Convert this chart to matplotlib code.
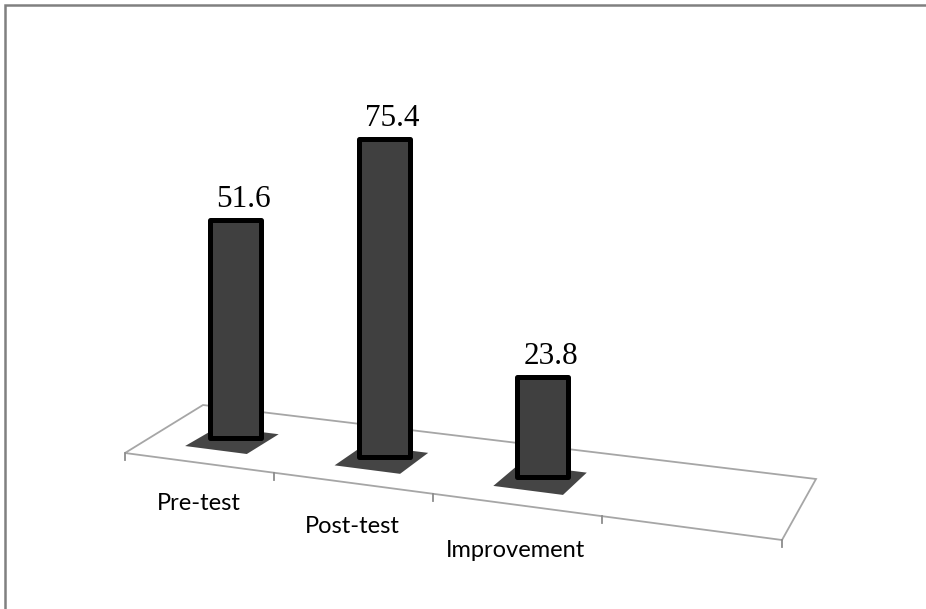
import numpy as np
import matplotlib.pyplot as plt
from matplotlib.patches import Polygon

categories = ["Pre-test", "Post-test", "Improvement"]
values = [51.6, 75.4, 23.8]

W, H_PX = 926, 609
n_slots = len(categories) + 1  # floor has one empty slot on the right

# floor corners on screen: front-left, front-right, back-right, back-left
floor_uv = [(0, 0), (n_slots, 0), (n_slots, 1), (0, 1)]
floor_px = [(125, 453), (782, 540), (816, 479), (203, 405)]


def homography(src, dst):
    rows = []
    for (x, y), (X, Y) in zip(src, dst):
        rows.append([x, y, 1, 0, 0, 0, -X * x, -X * y, -X])
        rows.append([0, 0, 0, x, y, 1, -Y * x, -Y * y, -Y])
    _, _, vt = np.linalg.svd(np.array(rows, dtype=float))
    h = vt[-1].reshape(3, 3)
    return h / h[2, 2]


Hm = homography(floor_uv, floor_px)


def to_px(u, d):
    p = Hm @ np.array([u, d, 1.0])
    return p[0] / p[2], p[1] / p[2]


fig = plt.figure(figsize=(W / 100, H_PX / 100), dpi=100)
ax = fig.add_axes([0, 0, 1, 1])
ax.set_xlim(0, W)
ax.set_ylim(H_PX, 0)
ax.axis("off")

# outer chart border (only top and left fall inside the image)
ax.plot([5, 5, W + 5], [H_PX + 5, 5, 5], color="#808080", lw=1.8, solid_joinstyle="miter")

# floor
grid_col = "#a6a6a6"
ax.add_patch(Polygon([to_px(u, d) for u, d in floor_uv], closed=True,
                     facecolor="white", edgecolor=grid_col, lw=1.3, zorder=1))
for t in range(n_slots + 1):
    x0, y0 = to_px(t, 0)
    ax.plot([x0, x0], [y0, y0 + 7], color="#8c8c8c", lw=1.3, zorder=1)

d_bar = 0.48
k = 4.22  # pixels per unit value
bar_w = 51
bx, by = [], []
for i in range(len(categories)):
    x, y = to_px(i + 0.5, d_bar)
    bx.append(x)
    by.append(y)
    # shadow on the floor under each bar
    shadow = [to_px(i + 0.5 + du, d_bar + dd) for du, dd in
              [(-0.22, -0.24), (0.2, -0.24), (0.22, 0.16), (-0.2, 0.16)]]
    ax.add_patch(Polygon(shadow, closed=True, facecolor="#454545",
                         edgecolor="none", zorder=2))
    # category label below the front edge
    fx, _ = to_px(i + 0.5, 0)
    _, ly = to_px(i + 0.5, -0.72)
    ax.text(fx, ly, categories[i], fontsize=17, family="Lato",
            ha="center", va="center", color="black")

heights = -k * np.array(values)
ax.bar(bx, heights, bottom=by, width=bar_w, color="#404040",
       edgecolor="black", linewidth=3.6, joinstyle="round", zorder=3)

for x, y, h, v in zip(bx, by, heights, values):
    ax.text(x + 8, y + h - 6, f"{v}", fontsize=22.5, family="Liberation Serif",
            ha="center", va="bottom", color="black", zorder=4)

fig.savefig("out.png", dpi=100)
